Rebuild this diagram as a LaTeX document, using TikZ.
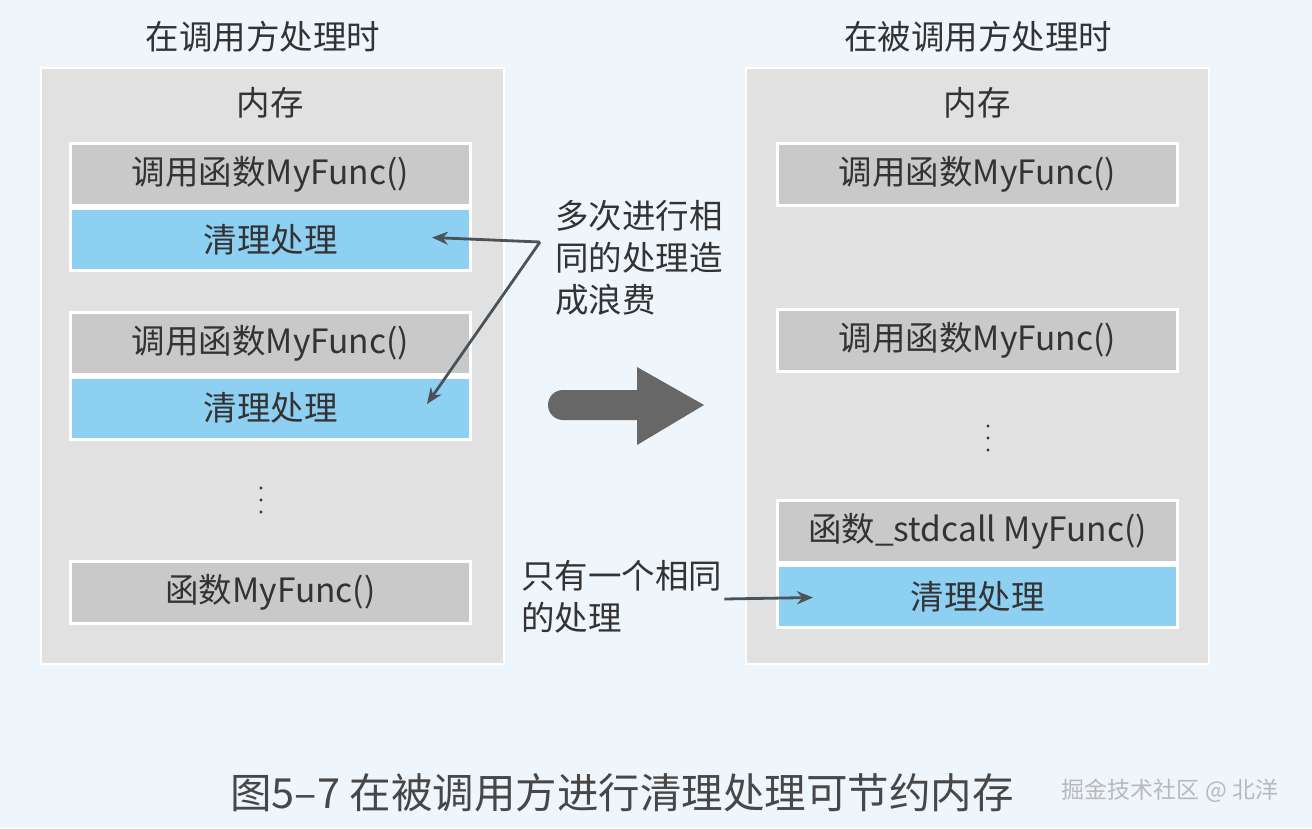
\documentclass[tikz,border=0pt]{standalone}
\usepackage{fontspec}
\setmainfont{Noto Sans CJK SC}
\usetikzlibrary{arrows.meta}

\definecolor{bgblue}{HTML}{EEF5FB}
\definecolor{panelgray}{HTML}{E1E1E1}
\definecolor{boxgray}{HTML}{C9C9C9}
\definecolor{cleanblue}{HTML}{8ED0F2}
\definecolor{arrowgray}{HTML}{4A525A}
\definecolor{bigarrowgray}{HTML}{676767}
\definecolor{textdark}{HTML}{333333}

\tikzset{
  panel/.style={fill=panelgray, draw=white, line width=2pt, minimum width=463, minimum height=596, inner sep=0pt},
  callbox/.style={fill=boxgray, draw=white, line width=3pt, minimum width=400, minimum height=62, inner sep=0pt, text=textdark, font=\fontsize{33.5}{38}\selectfont},
  cleanbox/.style={callbox, fill=cleanblue},
  label/.style={text=textdark, inner sep=0pt, font=\fontsize{33.5}{38}\selectfont},
  note/.style={label, align=left, anchor=west, font=\fontsize{33.5}{42}\selectfont},
  pointer/.style={-{Stealth[length=16pt,width=13pt]}, line width=2.8pt, draw=arrowgray}
}

\begin{document}
\begin{tikzpicture}[x=1pt, y=-1pt]
    \fill[bgblue] (0,0) rectangle (1312,828);
    \useasboundingbox (0,0) rectangle (1312,828);

    % Draw panels
    \node[panel] (leftpanel) at (272.5,366) {};
    \node[panel] (rightpanel) at (977.5,366) {};
    \node[label] (lefttitle) at (263,37) {在调用方处理时};
    \node[label] (righttitle) at (978,37) {在被调用方处理时};
    \node[label] (leftmem) at (270,103) {内存};
    \node[label] (rightmem) at (977,103) {内存};

    % Draw nodes (caller side)
    \node[callbox] (lcall1) at (270.5,174) {调用函数MyFunc()};
    \node[cleanbox] (lclean1) at (270.5,239.5) {清理处理};
    \node[callbox] (lcall2) at (270.5,343) {调用函数MyFunc()};
    \node[cleanbox] (lclean2) at (270.5,408) {清理处理};
    \node[callbox] (lfunc) at (270.5,592.5) {函数MyFunc()};
    \foreach \y in {488,500,512}
        \fill[textdark] (261,\y) circle (1.6);

    % Draw nodes (callee side)
    \node[callbox] (rcall1) at (977.5,174) {调用函数MyFunc()};
    \node[callbox] (rcall2) at (977.5,340) {调用函数MyFunc()};
    \node[callbox] (rfunc) at (977.5,531.5) {函数\_stdcall MyFunc()};
    \node[cleanbox] (rclean) at (977.5,596.5) {清理处理};
    \foreach \y in {426,438,450}
        \fill[textdark] (988,\y) circle (1.6);

    % Notes
    \node[note] (waste) at (555,258) {多次进行相\\同的处理造\\成浪费};
    \node[note] (once) at (521,597) {只有一个相同\\的处理};

    % Draw connections
    \coordinate (bend) at (540,242);
    \draw[pointer] (bend) -- ([xshift=-40pt,yshift=2pt]lclean1.east);
    \draw[pointer] (bend) -- ([xshift=-45pt,yshift=4pt]lclean2.east);
    \draw[pointer] ([xshift=2pt,yshift=-2pt]once.east) -- ([xshift=37pt,yshift=-1pt]rclean.west);

    % Big arrow
    \fill[bigarrowgray] (637,390) -- (637,367) -- (704,405) -- (637,445) -- (637,420)
        -- (563,420) arc[start angle=270, end angle=90, radius=15pt] -- cycle;

    % Caption
    \node[text=textdark!90, inner sep=0pt, font=\fontsize{41.5}{44}\selectfont] (caption) at (622,793) {图5–7 在被调用方进行清理处理可节约内存};
    \node[text=gray!55, inner sep=0pt, font=\fontsize{23}{26}\selectfont] (mark) at (1170,791) {掘金技术社区 @ 北洋};
\end{tikzpicture}
\end{document}
